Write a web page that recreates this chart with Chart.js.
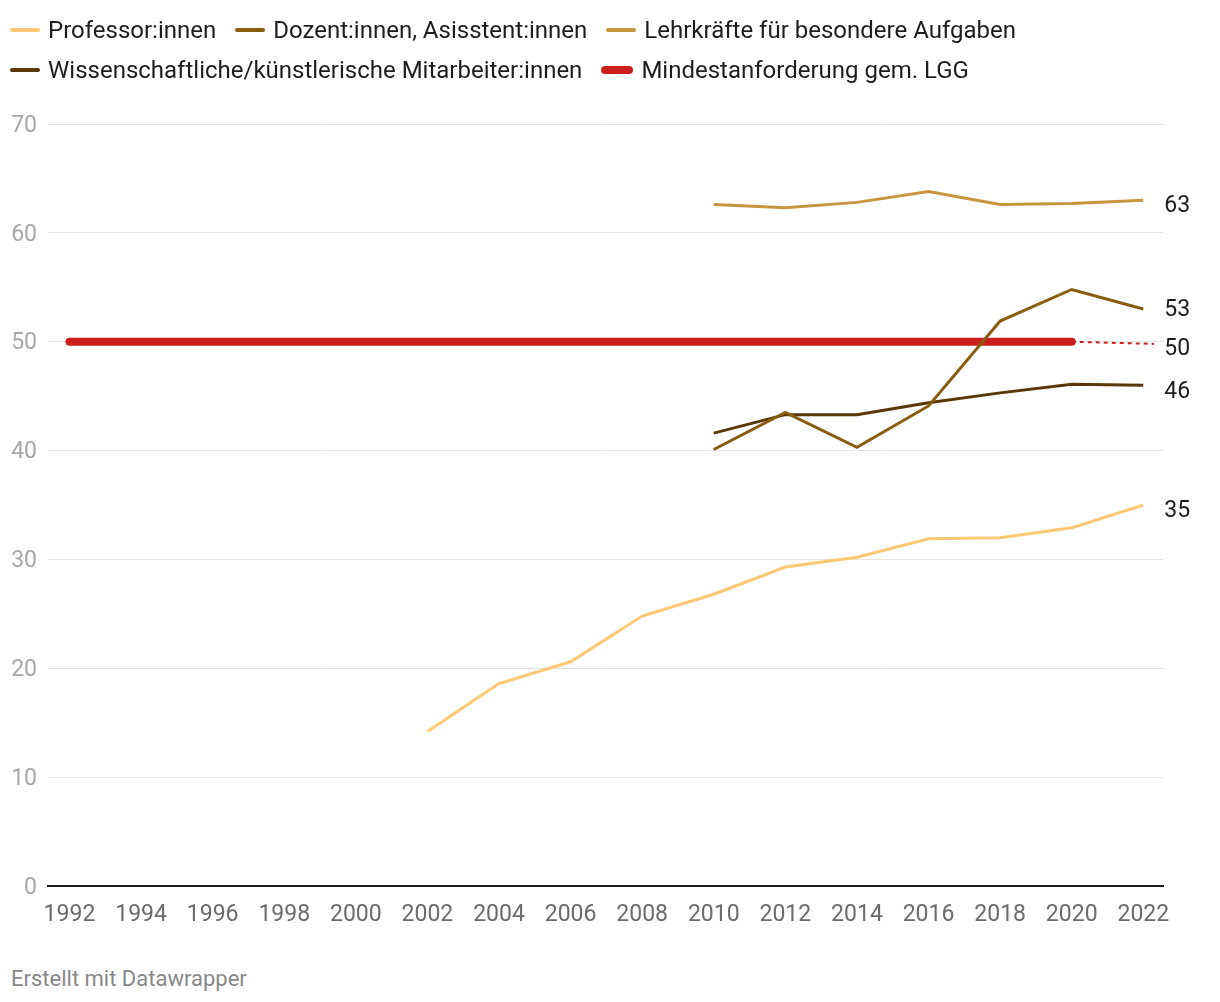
<!DOCTYPE html>
<html lang="de">
<head>
<meta charset="utf-8">
<script src="https://cdn.jsdelivr.net/npm/chart.js@4"></script>
<style>
  html, body { margin: 0; padding: 0; background: #fff; }
  body { width: 1220px; height: 1002px; position: relative; overflow: hidden; font-family: Roboto, "Noto Sans", sans-serif; }
  #wrap { position: absolute; left: 0; top: 0; width: 1220px; height: 940px; }
  .legend { position: absolute; left: 10px; top: 10px; font-size: 24px; color: #1d1d1d; }
  .row { display: flex; align-items: center; height: 40px; }
  .item { display: flex; align-items: center; margin-right: 19px; }
  .mark { width: 30px; height: 4px; border-radius: 2px; margin-right: 8px; }
  .mark.thick { width: 32px; height: 8px; border-radius: 4px; }
  .footer { position: absolute; left: 11px; top: 966px; font-size: 22px; color: #888; }
</style>
</head>
<body>
<div id="wrap"><canvas id="chart"></canvas></div>
<div class="legend" id="legend"></div>
<div class="footer">Erstellt mit Datawrapper</div>
<script>
const years = [2002, 2004, 2006, 2008, 2010, 2012, 2014, 2016, 2018, 2020, 2022];
const professor = [14.2, 18.6, 20.6, 24.8, 26.8, 29.3, 30.2, 31.9, 32.0, 32.9, 35.0];
const dozent = [null, null, null, null, 40.1, 43.5, 40.3, 44.1, 51.9, 54.8, 53.0];
const lehrkraefte = [null, null, null, null, 62.6, 62.3, 62.8, 63.8, 62.6, 62.7, 63.0];
const wimi = [null, null, null, null, 41.6, 43.3, 43.3, 44.4, 45.3, 46.1, 46.0];
const mindestYears = [1992, 2020];
const mindest = [50, 50];
const mindestTrendYears = [2020, 2022.3];
const mindestTrend = [50, 49.8];
const xTicks = [1992, 1994, 1996, 1998, 2000, 2002, 2004, 2006, 2008, 2010, 2012, 2014, 2016, 2018, 2020, 2022];
const yTicks = [0, 10, 20, 30, 40, 50, 60, 70];

const names = {
  professor: "Professor:innen",
  dozent: "Dozent:innen, Asisstent:innen",
  lehrkraefte: "Lehrkräfte für besondere Aufgaben",
  wimi: "Wissenschaftliche/künstlerische Mitarbeiter:innen",
  mindest: "Mindestanforderung gem. LGG"
};
const colors = {
  professor: "#fec874",
  dozent: "#8a5c10",
  lehrkraefte: "#c99440",
  wimi: "#5a3706",
  mindest: "#cc1e1e"
};

const toPoints = (xs, ys) => xs.map((x, i) => ({ x: x, y: ys[i] }));

// legend in two rows like the original
const legendRows = [["professor", "dozent", "lehrkraefte"], ["wimi", "mindest"]];
const legendEl = document.getElementById("legend");
legendRows.forEach((row) => {
  const r = document.createElement("div");
  r.className = "row";
  row.forEach((key) => {
    const it = document.createElement("div");
    it.className = "item";
    it.innerHTML = '<span class="mark' + (key === "mindest" ? " thick" : "") + '" style="background:' + colors[key] + '"></span>' + names[key];
    r.appendChild(it);
  });
  legendEl.appendChild(r);
});

// value labels at the right end of each line
const endLabels = {
  id: "endLabels",
  afterDatasetsDraw(chart) {
    const ctx = chart.ctx;
    const xs = chart.scales.x, ys = chart.scales.y;
    ctx.save();
    ctx.font = "23px Roboto";
    ctx.fillStyle = "#1d1d1d";
    ctx.textBaseline = "middle";
    chart.data.datasets.forEach((ds) => {
      if (ds.endLabel == null) return;
      const px = xs.getPixelForValue(2022) + 21;
      const py = ys.getPixelForValue(ds.endLabel) + (ds.labelShift == null ? 6.5 : ds.labelShift);
      ctx.fillText(String(ds.endLabel), px, py);
    });
    ctx.restore();
  }
};

const lineDs = (key, ys) => ({
  label: names[key],
  data: toPoints(years, ys),
  borderColor: colors[key],
  borderWidth: 3,
  pointRadius: 0,
  tension: 0,
  spanGaps: false,
  endLabel: Math.round(ys[ys.length - 1])
});

const datasets = [
  lineDs("professor", professor),
  lineDs("dozent", dozent),
  lineDs("lehrkraefte", lehrkraefte),
  lineDs("wimi", wimi),
  {
    label: names.mindest,
    data: toPoints(mindestYears, mindest),
    borderColor: colors.mindest,
    borderWidth: 8,
    borderCapStyle: "round",
    pointRadius: 0
  },
  {
    label: "Mindestanforderung Verlauf",
    data: toPoints(mindestTrendYears, mindestTrend),
    borderColor: colors.mindest,
    borderWidth: 2,
    borderDash: [4, 4],
    pointRadius: 0,
    endLabel: 50,
    labelShift: 7.5
  }
];
datasets[1].labelShift = 1.5; // 53 sits a bit higher so it does not touch 50

new Chart(document.getElementById("chart"), {
  type: "line",
  data: { datasets: datasets },
  options: {
    responsive: true,
    maintainAspectRatio: false,
    animation: false,
    layout: { padding: { top: 124, right: 57, left: 0, bottom: 0 } },
    plugins: { legend: { display: false }, tooltip: { enabled: false } },
    scales: {
      x: {
        type: "linear",
        min: 1991.4,
        max: 2022.55,
        afterBuildTicks: (s) => { s.ticks = xTicks.map((v) => ({ value: v })); },
        afterFit: (s) => { s.height = 54; },
        grid: { display: false },
        border: { color: "#1d1d1d", width: 2 },
        ticks: { color: "#6b6b6b", font: { family: "Roboto", size: 23 }, padding: 7, maxRotation: 0, callback: (v) => String(v) }
      },
      y: {
        min: 0,
        max: 70,
        afterBuildTicks: (s) => { s.ticks = yTicks.map((v) => ({ value: v })); },
        afterFit: (s) => { s.width = 48; },
        grid: { color: "#e3e3e3", lineWidth: 1, drawTicks: false },
        border: { display: false },
        ticks: { color: "#a8a8a8", font: { family: "Roboto", size: 23 }, padding: 11, labelOffset: 2 }
      }
    }
  },
  plugins: [endLabels]
});
</script>
</body>
</html>
